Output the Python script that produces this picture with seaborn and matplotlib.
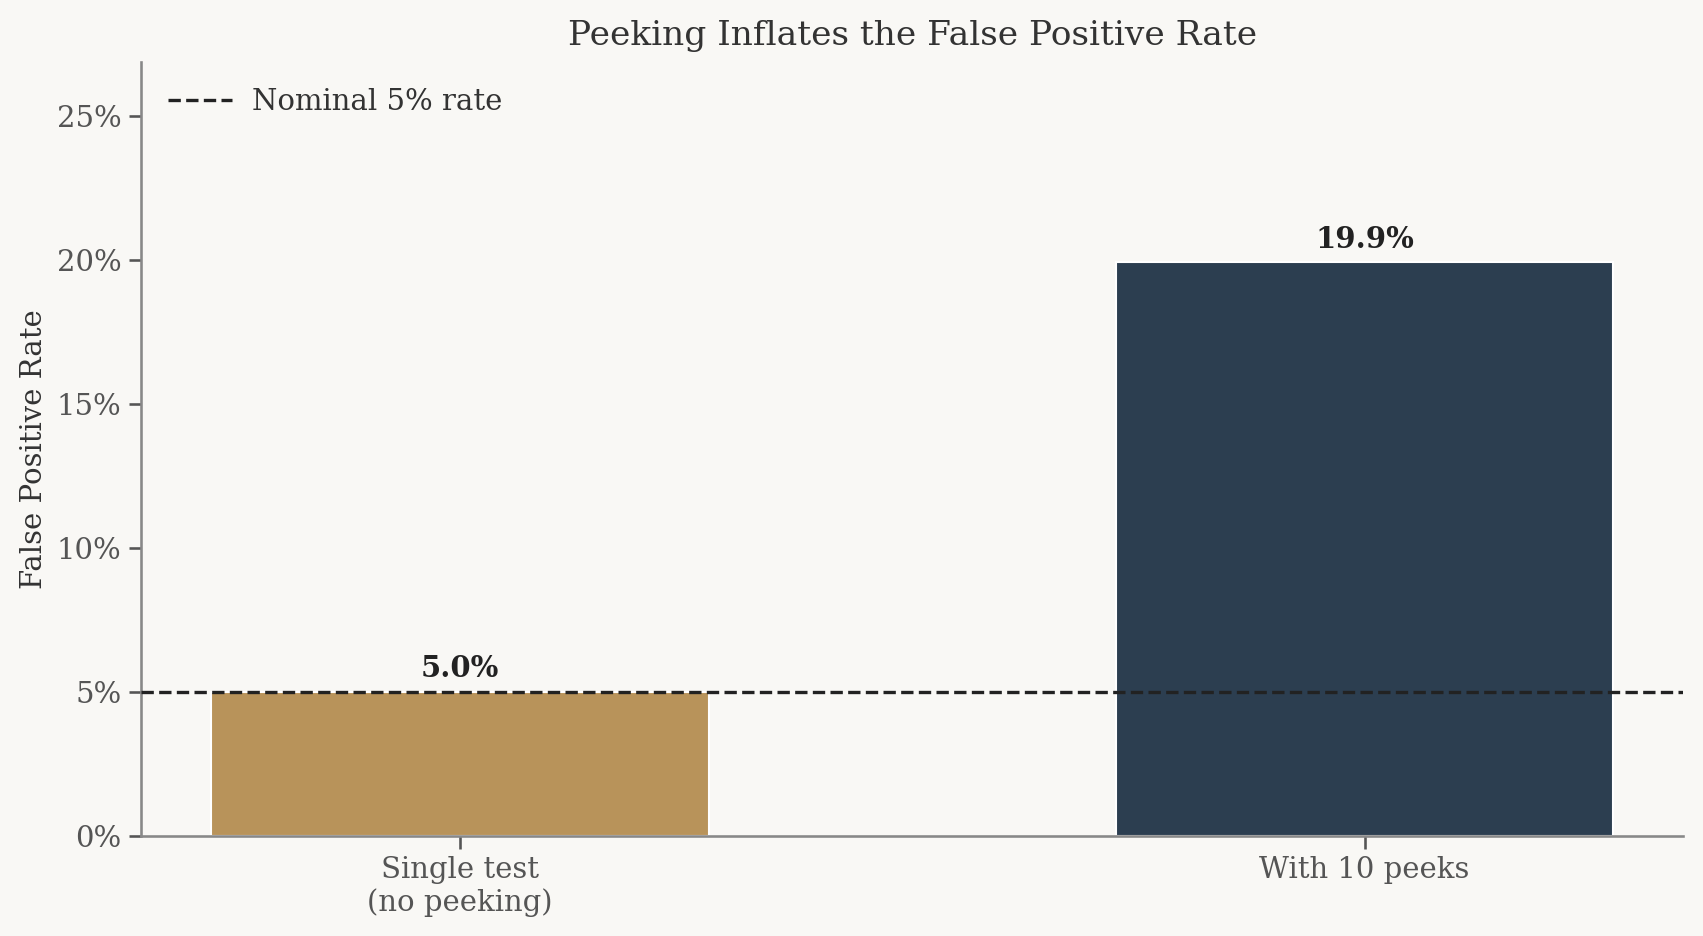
import numpy as np
import pandas as pd
import matplotlib
matplotlib.use("Agg")
import matplotlib.pyplot as plt
from matplotlib.ticker import PercentFormatter
import seaborn as sns

# ---------- data ----------
scenarios = ["Single test\n(no peeking)", "With 10 peeks"]
false_positive_rate = [5.0, 19.9]   # percent
bar_colors = ["#b8935a", "#2c3e50"]
nominal_rate = 5.0

BG = "#f9f8f5"

sns.set_theme(style="ticks")
plt.rcParams["font.family"] = ["DejaVu Serif"]
plt.rcParams["figure.facecolor"] = BG
plt.rcParams["axes.facecolor"] = BG

df = pd.DataFrame({"scenario": scenarios, "fpr": false_positive_rate})

fig = plt.figure(figsize=(1703 / 150, 936 / 150), dpi=150)
ax = fig.add_axes([0.083, 0.107, 0.9055, 0.827])

sns.barplot(data=df, x="scenario", y="fpr", hue="scenario", palette=bar_colors,
            saturation=1, width=0.55, edgecolor="white", linewidth=1,
            legend=False, ax=ax)

ax.axhline(nominal_rate, color="#222222", linestyle="--", linewidth=1.6,
           label="Nominal 5% rate", zorder=3)

# value labels above bars
for i, v in enumerate(false_positive_rate):
    ax.annotate(f"{v:.1f}%", (i, v), xytext=(0, 4), textcoords="offset points",
                ha="center", va="bottom", fontsize=14, fontweight="bold", color="#222222")

ax.set_xlim(-0.3525, 1.3525)
ax.set_ylim(0, max(false_positive_rate) * 1.35)
ax.yaxis.set_major_formatter(PercentFormatter(decimals=0))
ax.set_yticks([0, 5, 10, 15, 20, 25])

ax.set_title("Peeking Inflates the False Positive Rate", fontsize=16.5,
             color="#333333", pad=8)
ax.set_xlabel("")
ax.set_ylabel("False Positive Rate", fontsize=14, color="#333333")
ax.tick_params(axis="both", labelsize=14, labelcolor="#555555", color="#555555")

sns.despine(ax=ax)
for side in ["left", "bottom"]:
    ax.spines[side].set_color("#888888")

ax.legend(loc="upper left", frameon=False, fontsize=14, labelcolor="#333333",
          handlelength=2.2, handletextpad=0.7)

fig.savefig("out.png", dpi=150, facecolor=BG)
